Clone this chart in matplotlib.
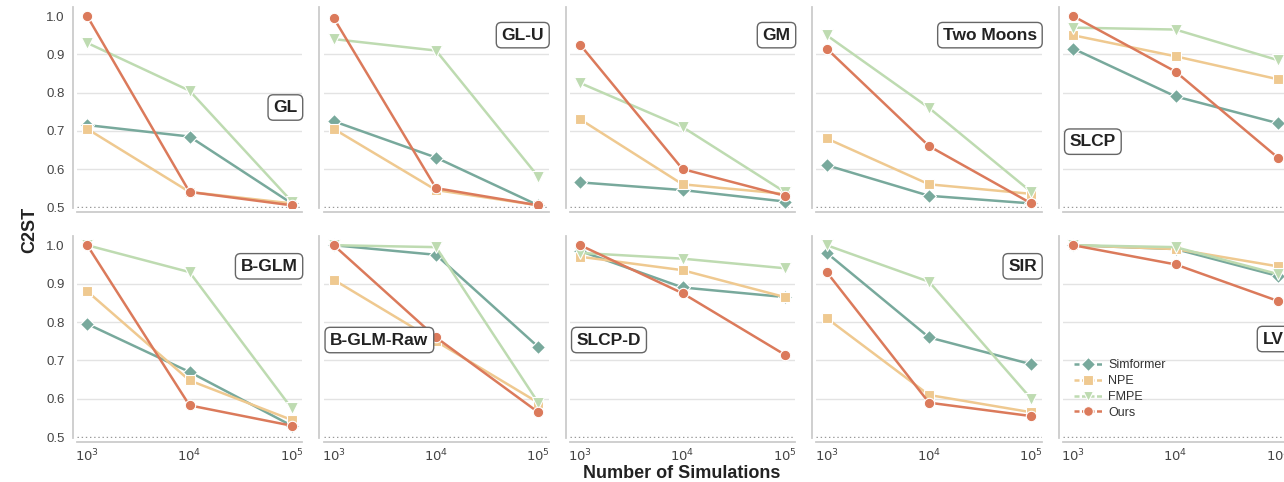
import numpy as np
import matplotlib.pyplot as plt
from matplotlib.lines import Line2D

plt.rcParams['font.family'] = ['Liberation Sans', 'DejaVu Sans']

# simulation budgets
sims = [1e3, 1e4, 1e5]
methods = ['Simformer', 'NPE', 'FMPE', 'Ours']
colors = ['#78a99c', '#efc990', '#bedbb1', '#db7a5b']
markers = ['D', 's', 'v', 'o']
msizes = [7.5, 7.5, 8, 7.5]

# C2ST per task, one list per method (Simformer, NPE, FMPE, Ours)
tasks = ['GL', 'GL-U', 'GM', 'Two Moons', 'SLCP',
         'B-GLM', 'B-GLM-Raw', 'SLCP-D', 'SIR', 'LV']

gl = [[0.715, 0.685, 0.51], [0.705, 0.54, 0.51], [0.93, 0.805, 0.515], [1.0, 0.54, 0.505]]
gl_u = [[0.725, 0.63, 0.505], [0.705, 0.545, 0.505], [0.94, 0.91, 0.58], [0.995, 0.55, 0.505]]
gm = [[0.565, 0.545, 0.515], [0.73, 0.56, 0.535], [0.825, 0.71, 0.54], [0.925, 0.60, 0.53]]
two_moons = [[0.61, 0.53, 0.51], [0.68, 0.56, 0.535], [0.95, 0.76, 0.54], [0.915, 0.66, 0.51]]
slcp = [[0.915, 0.79, 0.72], [0.95, 0.895, 0.835], [0.97, 0.965, 0.885], [1.0, 0.855, 0.63]]
b_glm = [[0.795, 0.67, 0.53], [0.88, 0.648, 0.545], [1.0, 0.93, 0.575], [1.0, 0.583, 0.53]]
b_glm_raw = [[1.0, 0.975, 0.735], [0.91, 0.75, 0.59], [1.0, 0.995, 0.59], [1.0, 0.76, 0.565]]
slcp_d = [[0.985, 0.89, 0.865], [0.97, 0.935, 0.865], [0.98, 0.965, 0.94], [1.0, 0.875, 0.715]]
sir = [[0.98, 0.76, 0.69], [0.81, 0.61, 0.565], [1.0, 0.905, 0.60], [0.93, 0.59, 0.555]]
lv = [[1.0, 0.99, 0.92], [1.0, 0.99, 0.945], [1.0, 0.995, 0.925], [1.0, 0.95, 0.855]]
results = [gl, gl_u, gm, two_moons, slcp, b_glm, b_glm_raw, slcp_d, sir, lv]

# where the task name box sits (axes fraction, ha)
label_pos = [(0.98, 0.50, 'right'), (0.98, 0.86, 'right'), (0.98, 0.86, 'right'),
             (0.98, 0.86, 'right'), (0.03, 0.33, 'left'),
             (0.98, 0.85, 'right'), (0.03, 0.485, 'left'), (0.03, 0.485, 'left'),
             (0.98, 0.85, 'right'), (0.98, 0.49, 'right')]

W, H = 1284, 482
fig = plt.figure(figsize=(W / 100, H / 100), dpi=100)

lefts = [77, 323.5, 570, 816.5, 1063]
rows = [(7, 208), (236, 438)]
ax_w = 225

axes = []
for i, name in enumerate(tasks):
    r, c = divmod(i, 5)
    top, bot = rows[r]
    ax = fig.add_axes([lefts[c] / W, 1 - bot / H, ax_w / W, (bot - top) / H])
    axes.append(ax)

    for yy in [0.6, 0.7, 0.8, 0.9]:
        ax.axhline(yy, color='#e3e3e3', lw=1.0, zorder=0)
    ax.axhline(0.5, color='#999999', lw=1.0, ls=(0, (1, 2)), zorder=0)

    for m in range(4):
        ax.plot(sims, results[i][m], color=colors[m], marker=markers[m],
                markersize=msizes[m], markeredgecolor='white', markeredgewidth=0.8,
                lw=1.8, zorder=3 + m)

    ax.set_xscale('log')
    ax.set_xlim(10 ** 2.9, 10 ** 5.1)
    ax.set_ylim(0.498, 1.024)
    ax.set_yticks([0.5, 0.6, 0.7, 0.8, 0.9, 1.0])
    ax.set_xticks(sims)
    ax.minorticks_off()
    ax.tick_params(axis='y', length=0, labelsize=9.5, labelcolor='#444444', pad=6)
    ax.tick_params(axis='x', length=0, labelsize=9.5, labelcolor='#444444', pad=4)
    if c > 0:
        ax.set_yticklabels([])
    else:
        ax.set_yticklabels(['0.5', '0.6', '0.7', '0.8', '0.9', '1.0'])
    if r == 0:
        ax.set_xticklabels([])
    else:
        ax.set_xticklabels(['$10^{3}$', '$10^{4}$', '$10^{5}$'])

    for s in ['top', 'right']:
        ax.spines[s].set_visible(False)
    for s in ['left', 'bottom']:
        ax.spines[s].set_color('#cccccc')
        ax.spines[s].set_linewidth(1.3)
        ax.spines[s].set_position(('outward', 3))

    lx, ly, ha = label_pos[i]
    ax.text(lx, ly, name, transform=ax.transAxes, ha=ha, va='center',
            fontsize=12.5, fontweight='bold', color='#222222', zorder=10,
            bbox=dict(boxstyle='round,pad=0.3', fc='white', ec='#666666', lw=1.0))

handles = [Line2D([0], [0], color=colors[m], marker=markers[m], markersize=msizes[m] - 0.5,
                  markeredgecolor='white', markeredgewidth=0.8, lw=1.8, ls=(0, (2, 1)))
           for m in range(4)]
axes[-1].legend(handles, methods, loc='lower left', bbox_to_anchor=(0.0, 0.04),
                frameon=False, fontsize=9, handlelength=2.2, labelspacing=0.3,
                handletextpad=0.5, labelcolor='#333333')

fig.text(30 / W, 1 - 230 / H, 'C2ST', rotation=90, ha='center', va='center',
         fontsize=13, fontweight='bold', color='#222222')
fig.text(682 / W, 1 - 474 / H, 'Number of Simulations', ha='center', va='center',
         fontsize=13, fontweight='bold', color='#222222')

fig.savefig('out.png', dpi=100)
